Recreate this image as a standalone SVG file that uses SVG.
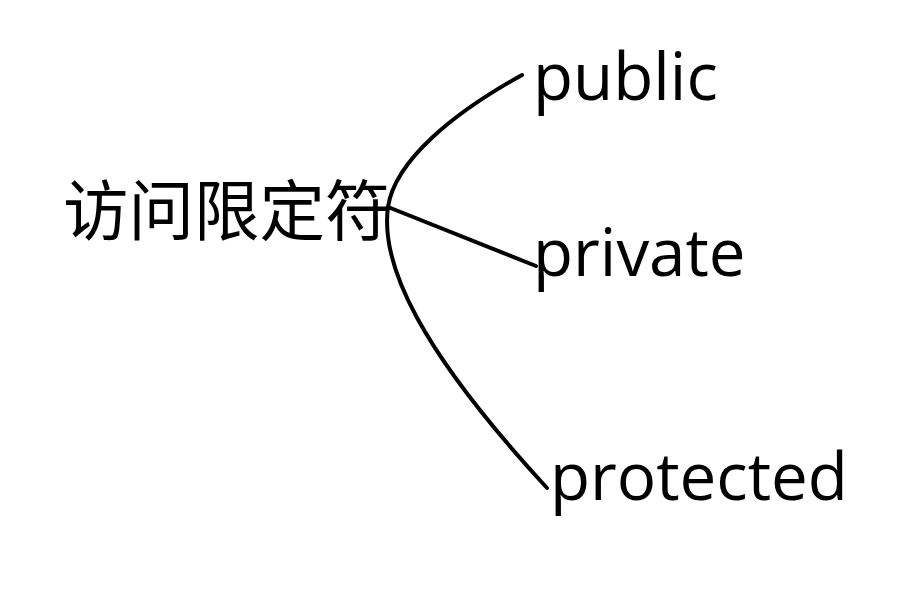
<svg xmlns="http://www.w3.org/2000/svg" width="913" height="612" viewBox="0 0 913 612">
<style>
.lbl{font-family:"Open Sans","Noto Sans","Noto Sans CJK SC",sans-serif;font-size:65.5px;fill:#000}
.zh{font-family:"Noto Sans CJK SC",sans-serif;font-size:65.5px;fill:#000}
.edge{fill:none;stroke:#000;stroke-width:4;stroke-linecap:round}
</style>
<rect width="913" height="612" fill="#fff"/>
<g id="connectors">
<path class="edge" d="M522 75 C455 112 395 160 388 207"/>
<path class="edge" d="M388 207 C380 265 420 350 547 488"/>
<path class="edge" d="M388 207 L536 266"/>
</g>
<g id="root"><text class="zh" x="63" y="235">访问限定符</text></g>
<g id="public"><text class="lbl" x="533" y="100">public</text></g>
<g id="private"><text class="lbl" x="533" y="276">private</text></g>
<g id="protected"><text class="lbl" x="550" y="500">protected</text></g>
</svg>
